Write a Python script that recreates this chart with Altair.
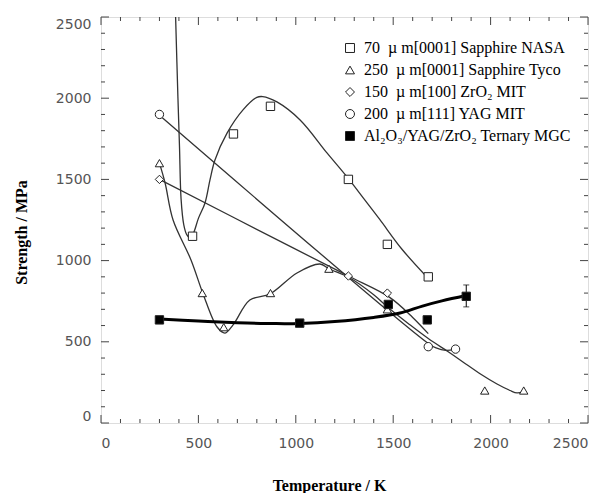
import altair as alt
import pandas as pd

# ---- series names (legend order) ----
names = [
    "70\u00a0\u00a0\u00b5 m[0001] Sapphire NASA",
    "250\u00a0\u00a0\u00b5 m[0001] Sapphire Tyco",
    "150\u00a0\u00a0\u00b5 m[100] ZrO\u2082 MIT",
    "200\u00a0\u00a0\u00b5 m[111] YAG MIT",
    "Al\u2082O\u2083/YAG/ZrO\u2082 Ternary MGC",
]
shapes = ["square", "triangle-up", "diamond", "circle", "square"]
fills = ["white", "white", "white", "white", "black"]
strokes = ["#222", "#222", "#222", "#222", "#222"]

# ---- measured points ----
nasa_x = [470, 680, 870, 1270, 1470, 1680]
nasa_y = [1150, 1780, 1950, 1500, 1100, 900]
tyco_x = [300, 520, 630, 870, 1170, 1470, 1970, 2170]
tyco_y = [1600, 800, 590, 800, 950, 700, 200, 200]
zro2_x = [300, 1270, 1470]
zro2_y = [1500, 905, 800]
yag_x = [300, 1680, 1820]
yag_y = [1900, 470, 455]
mgc_x = [300, 1020, 1475, 1675, 1875]
mgc_y = [635, 615, 730, 635, 780]
err_x = [1875]
err_lo = [715]
err_hi = [850]

# ---- fitted curves ----
nasa_cx = [383, 395, 403, 411, 425, 440, 458, 475, 500, 534, 560, 585, 647, 729, 800, 830,
           903, 1022, 1160, 1263, 1350, 1430, 1545, 1680]
nasa_cy = [2500, 2000, 1700, 1380, 1220, 1160, 1140, 1170, 1260, 1355, 1500, 1620, 1785, 1928,
           2005, 2010, 1977, 1866, 1663, 1515, 1380, 1255, 1070, 890]
tyco_cx = [300, 329, 370, 462, 524, 596, 637, 678, 764, 868, 1006, 1124, 1170, 1278, 1400,
           1480, 1580, 1680, 1792, 1858, 1950, 2033, 2100, 2136, 2171]
tyco_cy = [1600, 1478, 1250, 1004, 795, 591, 554, 604, 757, 795, 924, 979, 950, 893, 790,
           705, 610, 520, 431, 376, 300, 240, 200, 185, 195]
zro2_cx = [300, 986, 1270, 1480, 1600, 1680]
zro2_cy = [1500, 1078, 905, 775, 650, 550]
yag_cx = [300, 1680, 1720, 1770, 1820]
yag_cy = [1895, 490, 462, 447, 455]
mgc_cx = [300, 500, 700, 900, 1020, 1200, 1400, 1535, 1650, 1750, 1875]
mgc_cy = [640, 628, 618, 612, 613, 625, 650, 677, 720, 752, 785]

# ---- axis ticks ----
x_major = [0, 500, 1000, 1500, 2000, 2500]
x_minor = [v for v in range(100, 2500, 100) if v % 500 != 0]
y_major = [0, 500, 1000, 1500, 2000, 2500]
y_minor = [v for v in range(100, 2500, 100) if v % 500 != 0]

W, H = 487, 406

pts = pd.concat([
    pd.DataFrame({"T": xs, "S": ys, "series": n})
    for xs, ys, n in [(nasa_x, nasa_y, names[0]), (tyco_x, tyco_y, names[1]),
                      (zro2_x, zro2_y, names[2]), (yag_x, yag_y, names[3]),
                      (mgc_x, mgc_y, names[4])]
])
curves = pd.concat([
    pd.DataFrame({"T": xs, "S": ys, "series": n, "order": range(len(xs))})
    for xs, ys, n in [(nasa_cx, nasa_cy, "nasa"), (tyco_cx, tyco_cy, "tyco"),
                      (zro2_cx, zro2_cy, "zro2"), (yag_cx, yag_cy, "yag")]
])
mgc_curve = pd.DataFrame({"T": mgc_cx, "S": mgc_cy})
err = pd.DataFrame({"T": err_x, "lo": err_lo, "hi": err_hi})

xscale = alt.Scale(domain=[0, 2500], nice=False)
yscale = alt.Scale(domain=[0, 2500], nice=False)

x_axis = alt.Axis(values=x_major, format="d", ticks=False, domain=False, grid=False,
                  labelFont="DejaVu Sans", labelFontSize=14, labelColor="#555",
                  labelPadding=13, title="Temperature / K",
                  titleFont="Liberation Serif", titleFontSize=16, titleFontWeight="bold",
                  titleColor="black", titlePadding=27, titleX=228)
y_axis = alt.Axis(values=y_major, format="d", ticks=False, domain=False, grid=False,
                  labelFont="DejaVu Sans", labelFontSize=14, labelColor="#555",
                  labelPadding=10, labelFlush=True, title="Strength / MPa",
                  titleFont="Liberation Serif", titleFontSize=16, titleFontWeight="bold",
                  titleColor="black", titlePadding=26, titleY=215)

X = alt.X("T:Q", scale=xscale, axis=x_axis)
Y = alt.Y("S:Q", scale=yscale, axis=y_axis)

thin = alt.Chart(curves).mark_line(color="#333", strokeWidth=1.3, interpolate="catmull-rom",
                                   clip=True).encode(
    x=X, y=Y, detail="series:N", order="order:Q")

thick = alt.Chart(mgc_curve).mark_line(color="black", strokeWidth=3,
                                       interpolate="catmull-rom").encode(x="T:Q", y="S:Q")

legend = alt.Legend(title=None, orient="none", legendX=241, legendY=23, padding=0,
                    labelFont="Liberation Serif", labelFontSize=16, labelColor="black",
                    symbolSize=80, symbolStrokeWidth=1,
                    labelOffset=6, rowPadding=6, labelLimit=300)

points = alt.Chart(pts).mark_point(filled=True, size=70, strokeWidth=1, opacity=1).encode(
    x="T:Q", y="S:Q",
    shape=alt.Shape("series:N", scale=alt.Scale(domain=names, range=shapes), legend=legend),
    fill=alt.Fill("series:N", scale=alt.Scale(domain=names, range=fills), legend=legend),
    stroke=alt.Stroke("series:N", scale=alt.Scale(domain=names, range=strokes), legend=legend),
)

err_rule = alt.Chart(err).mark_rule(color="black", strokeWidth=1).encode(
    x="T:Q", y="lo:Q", y2="hi:Q")
cap_lo = alt.Chart(err).mark_tick(color="black", orient="horizontal", size=6,
                                  thickness=1).encode(x="T:Q", y="lo:Q")
cap_hi = alt.Chart(err).mark_tick(color="black", orient="horizontal", size=6,
                                  thickness=1).encode(x="T:Q", y="hi:Q")

def xt(vals, y0, y1):
    return alt.Chart(pd.DataFrame({"T": vals})).mark_rule(color="#444", strokeWidth=1).encode(
        x="T:Q", y=alt.value(y0), y2=alt.value(y1))

def yt(vals, x0, x1):
    return alt.Chart(pd.DataFrame({"S": vals})).mark_rule(color="#444", strokeWidth=1).encode(
        y="S:Q", x=alt.value(x0), x2=alt.value(x1))

ticks = [
    xt(x_major, H, H - 8), xt(x_minor, H, H - 4), xt(x_major, 0, 8), xt(x_minor, 0, 4),
    yt(y_major, 0, 8), yt(y_minor, 0, 4), yt(y_major, W, W - 8), yt(y_minor, W, W - 4),
]

chart = alt.layer(thin, thick, err_rule, cap_lo, cap_hi, points, *ticks).properties(
    width=W, height=H,
    autosize=alt.AutoSizeParams(type="none"),
    padding={"left": 93, "top": 9, "right": 11, "bottom": 70},
).configure_view(stroke="#333", strokeWidth=2).configure(background="white")

chart.save("out.html", embed_options={"renderer": "svg", "actions": False})
